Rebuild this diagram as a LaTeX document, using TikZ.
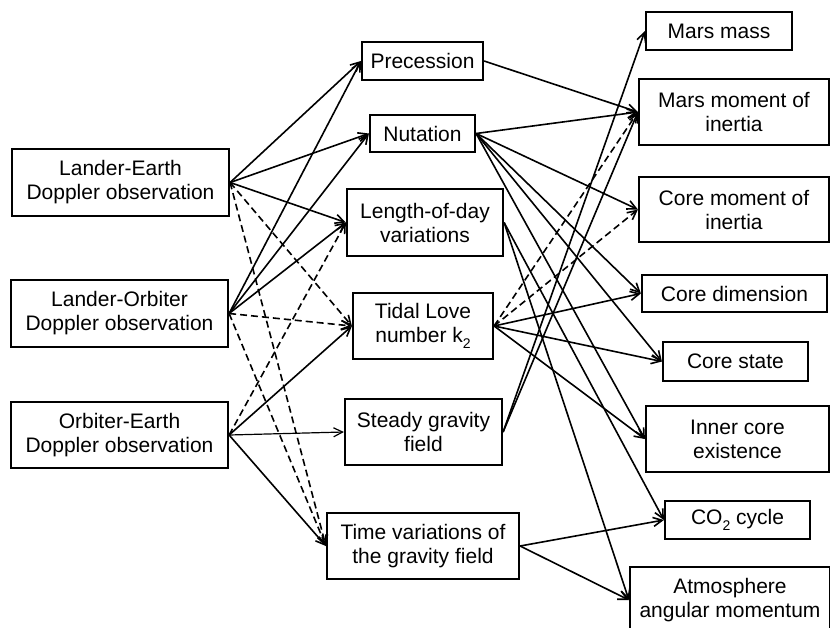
\documentclass[tikz,border=0pt]{standalone}
\usepackage{fontspec}
\setmainfont{Liberation Sans}
\usetikzlibrary{arrows.meta}
\newcommand\mysub[1]{\raisebox{-0.28em}{\fontsize{14}{14}\selectfont #1}}
\tikzset{
  box/.style={draw, line width=2.2pt, inner sep=0pt, align=center,
    font=\fontsize{21}{24}\selectfont},
  conn/.style={line width=1.6pt, -{Straight Barb[length=9pt,width=9pt]}},
  dconn/.style={conn, dash pattern=on 7pt off 4pt},
}
\begin{document}
\begin{tikzpicture}[x=1pt,y=-1pt]
\useasboundingbox (0,0) rectangle (830,627);
\clip (0,0) rectangle (830,627);
% left column
\node[box, minimum width=217pt, minimum height=67pt] (le) at (120.5,182.5) {Lander-Earth\\Doppler observation};
\node[box, minimum width=217pt, minimum height=67pt] (lo) at (119.5,313.5) {Lander-Orbiter\\Doppler observation};
\node[box, minimum width=217pt, minimum height=66pt] (oe) at (119.5,435) {Orbiter-Earth\\Doppler observation};
% middle column
\node[box, minimum width=121pt, minimum height=38pt] (prec) at (422.5,61) {Precession};
\node[box, minimum width=105pt, minimum height=37pt] (nut) at (422.5,133.5) {Nutation};
\node[box, minimum width=156pt, minimum height=67pt] (lod) at (425,222.5) {Length-of-day\\variations};
\node[box, minimum width=140pt, minimum height=66pt] (tidal) at (423,326) {Tidal Love\\number k\mysub{2}};
\node[box, minimum width=157pt, minimum height=66pt] (steady) at (423.5,432) {Steady gravity\\field};
\node[box, minimum width=192pt, minimum height=66pt] (timevar) at (423,546) {Time variations of\\the gravity field};
% right column
\node[box, minimum width=146pt, minimum height=38pt] (mass) at (719,31) {Mars mass};
\node[box, minimum width=190pt, minimum height=66pt] (mmoi) at (734,112) {Mars moment of\\inertia};
\node[box, minimum width=190pt, minimum height=65pt] (cmoi) at (734,209.5) {Core moment of\\inertia};
\node[box, minimum width=185pt, minimum height=37pt] (cdim) at (734.5,293.5) {Core dimension};
\node[box, minimum width=145pt, minimum height=39pt] (cstate) at (735.5,361.5) {Core state};
\node[box, minimum width=183pt, minimum height=66pt] (inner) at (737.5,439) {Inner core\\existence};
\node[box, minimum width=145pt, minimum height=38pt] (co2) at (737.5,520) {CO\mysub{2} cycle};
\node[box, minimum width=200pt, minimum height=66pt] (atm) at (730,600) {Atmosphere\\angular momentum};
% left to middle
\draw[conn] (le.east) -- (prec.west);
\draw[conn] (le.east) -- (nut.west);
\draw[conn] (le.east) -- (lod.west);
\draw[dconn] (le.east) -- (tidal.west);
\draw[dconn] (le.east) -- (timevar.west);
\draw[conn] (lo.east) -- (prec.west);
\draw[conn] (lo.east) -- (nut.west);
\draw[conn] (lo.east) -- (lod.west);
\draw[dconn] (lo.east) -- (tidal.west);
\draw[dconn] (lo.east) -- (timevar.west);
\draw[dconn] (oe.east) -- (lod.west);
\draw[conn] (oe.east) -- (tidal.west);
\draw[conn, line width=1.2pt] (oe.east) -- (steady.west);
\draw[conn] (oe.east) -- (timevar.west);
% middle to right
\draw[conn] (prec.east) -- (mmoi.west);
\draw[conn] (nut.east) -- (mmoi.west);
\draw[conn] (nut.east) -- (cmoi.west);
\draw[conn] (nut.east) -- (cdim.west);
\draw[conn] (nut.east) -- (cstate.west);
\draw[conn] (nut.east) -- (inner.west);
\draw[conn] (lod.east) -- (co2.west);
\draw[conn] (lod.east) -- (atm.west);
\draw[dconn] (tidal.east) -- (mmoi.west);
\draw[dconn] (tidal.east) -- (cmoi.west);
\draw[conn] (tidal.east) -- (cdim.west);
\draw[conn] (tidal.east) -- (cstate.west);
\draw[conn] (tidal.east) -- (inner.west);
\draw[conn] (steady.east) -- (mass.west);
\draw[conn] (steady.east) -- (mmoi.west);
\draw[conn] (timevar.east) -- (co2.west);
\draw[conn] (timevar.east) -- (atm.west);
\end{tikzpicture}
\end{document}
